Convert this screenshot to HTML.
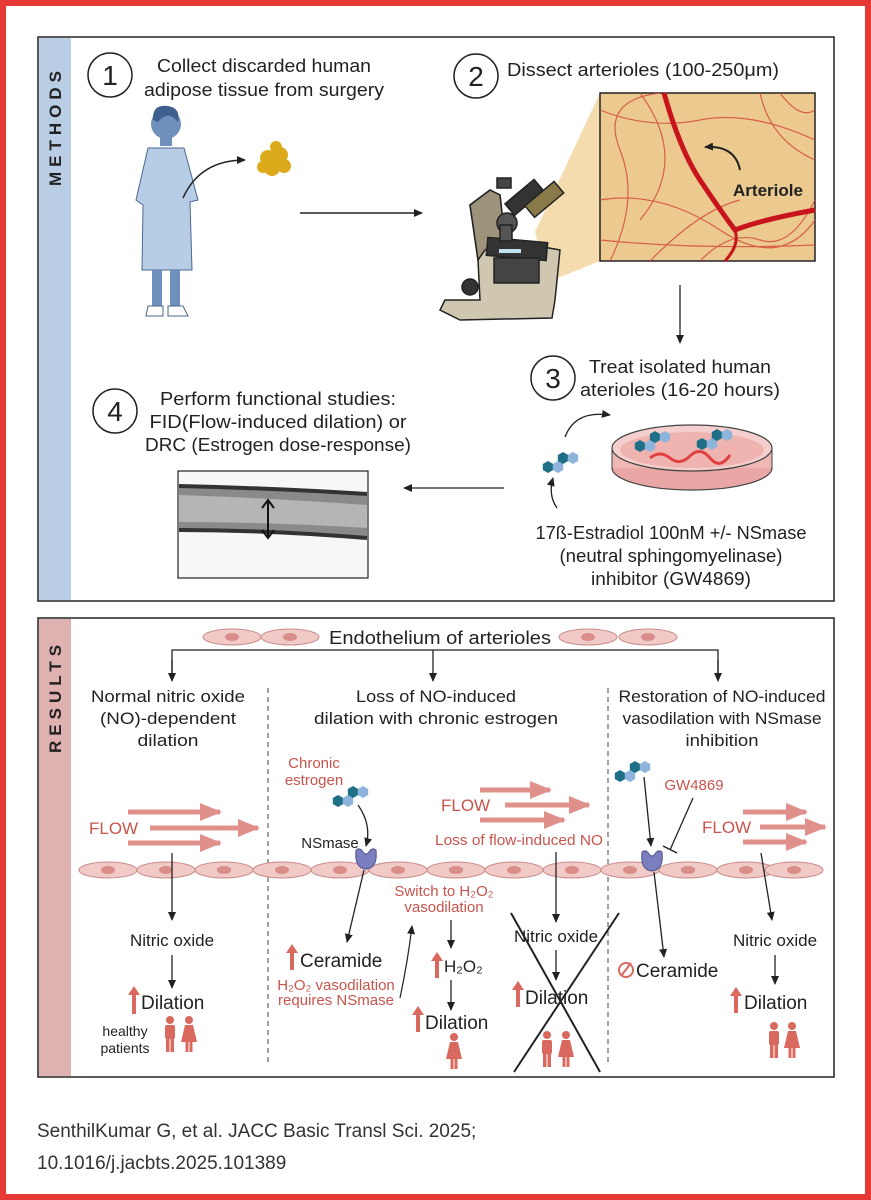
<!DOCTYPE html>
<html><head><meta charset="utf-8"><style>
html,body{margin:0;padding:0;background:#fff;}
svg{display:block;}
text{font-family:"Liberation Sans",sans-serif;}
</style></head><body>
<svg width="871" height="1200" viewBox="0 0 871 1200" xmlns="http://www.w3.org/2000/svg">
<defs>
<marker id="ah" markerWidth="10" markerHeight="10" refX="8" refY="5" orient="auto" markerUnits="userSpaceOnUse"><path d="M0,1 L9,5 L0,9 Z" fill="#222"/></marker>
<marker id="ahp" markerWidth="22" markerHeight="22" refX="20" refY="11" orient="auto" markerUnits="userSpaceOnUse"><path d="M0,2 L22,11 L0,20 Z" fill="#e0908a"/></marker>
<g id="hex"><polygon points="0,-6 5.2,-3 5.2,3 0,6 -5.2,3 -5.2,-3"/></g>
<g id="mol">
<use href="#hex" x="0" y="6" fill="#1f6f86"/><use href="#hex" x="10" y="6" fill="#8fb4dc"/>
<use href="#hex" x="15" y="-3" fill="#1f6f86"/><use href="#hex" x="25" y="-3" fill="#8fb4dc"/>
</g>
<g id="cell"><ellipse cx="0" cy="0" rx="29" ry="8" fill="#f1c9c6" stroke="#c88c8a" stroke-width="1"/><ellipse cx="0" cy="0" rx="7" ry="4" fill="#d98e8a"/></g>
<g id="man" fill="#d9695f"><circle cx="0" cy="-20" r="4"/><rect x="-5" y="-15" width="10" height="14" rx="2"/><rect x="-4" y="-2" width="3.5" height="14"/><rect x="0.5" y="-2" width="3.5" height="14"/></g>
<g id="woman" fill="#d9695f"><circle cx="0" cy="-20" r="4"/><path d="M-4,-15 L4,-15 L8,2 L-8,2 Z"/><rect x="-3.5" y="1" width="3" height="11"/><rect x="0.5" y="1" width="3" height="11"/></g>
<g id="enz"><path d="M-10,-8 Q-12,10 0,11 Q12,10 10,-8 Q6,-11 3,-6 Q0,-2 -3,-6 Q-6,-11 -10,-8Z" fill="#7b7fbf" stroke="#4f528f" stroke-width="1"/></g>
</defs>

<rect x="3" y="3" width="865" height="1194" fill="none" stroke="#e53935" stroke-width="6"/>

<rect x="38" y="37" width="796" height="564" fill="#fff" stroke="#222" stroke-width="1.5"/>
<rect x="39" y="38" width="32" height="562" fill="#b9cde5"/>
<text transform="translate(61,186) rotate(-90)" font-size="17" fill="#222" letter-spacing="5" font-weight="bold">METHODS</text>

<circle cx="110" cy="75" r="22" fill="none" stroke="#222" stroke-width="1.5"/>
<text x="110" y="85" font-size="28" text-anchor="middle" fill="#222">1</text>
<text x="264" y="72" font-size="18" text-anchor="middle" fill="#222" textLength="214" lengthAdjust="spacingAndGlyphs">Collect discarded human</text>
<text x="264" y="96" font-size="18" text-anchor="middle" fill="#222" textLength="240" lengthAdjust="spacingAndGlyphs">adipose tissue from surgery</text>

<circle cx="476" cy="76" r="22" fill="none" stroke="#222" stroke-width="1.5"/>
<text x="476" y="86" font-size="28" text-anchor="middle" fill="#222">2</text>
<text x="507" y="76" font-size="18" fill="#222" textLength="272" lengthAdjust="spacingAndGlyphs">Dissect arterioles (100-250μm)</text>

<g>
<circle cx="166" cy="124" r="15" fill="#6f8fbd"/>
<path d="M153,120 Q152,104 168,106 Q181,108 178,122 L174,118 Q166,112 158,122Z" fill="#3f5f8f"/>
<rect x="160" y="136" width="12" height="10" fill="#6f8fbd"/>
<path d="M148,148 L184,148 L198,200 L190,202 L192,270 L142,270 L143,205 L136,200 Z" fill="#b7cde6" stroke="#4c6690" stroke-width="1"/>
<rect x="152" y="270" width="10" height="38" fill="#6f8fbd"/>
<rect x="170" y="270" width="10" height="38" fill="#6f8fbd"/>
<path d="M148,306 L163,306 L163,316 L146,316Z M168,306 L183,306 L188,316 L168,316Z" fill="#fff" stroke="#4c6690"/>
</g>
<g fill="#dcaa1a"><circle cx="268" cy="158" r="8"/><circle cx="280" cy="155" r="8"/><circle cx="272" cy="168" r="8"/><circle cx="284" cy="166" r="7"/><circle cx="276" cy="147" r="6"/><circle cx="263" cy="167" r="6"/></g>
<path d="M183,198 Q200,160 245,160" fill="none" stroke="#222" stroke-width="1.5" marker-end="url(#ah)"/>

<line x1="300" y1="213" x2="422" y2="213" stroke="#222" stroke-width="1.5" marker-end="url(#ah)"/>

<polygon points="535,232 600,93 600,261 548,282" fill="#f4dcae"/>
<g stroke="#222" stroke-width="1.5">
<path d="M445,300 L480,300 L478,260 L470,205 L490,190 L500,195 L505,240 L560,250 L555,300 L552,318 L460,320 L440,310 Z" fill="#cfc7b0"/>
<path d="M470,205 L490,190 L500,195 L505,240 L485,250 L478,260 Z" fill="#9d937a"/>
<rect x="487" y="240" width="60" height="18" fill="#333" transform="rotate(5 517 249)"/>
<rect x="494" y="258" width="45" height="25" fill="#444"/>
<rect x="497" y="178" width="14" height="10" fill="#444"/>
<rect x="505" y="190" width="38" height="15" fill="#333" transform="rotate(-40 524 197)"/>
<rect x="525" y="192" width="38" height="15" fill="#8a7a4a" transform="rotate(-40 544 199)"/>
<circle cx="507" cy="223" r="10" fill="#555"/>
<rect x="500" y="225" width="12" height="16" fill="#555"/>
<circle cx="470" cy="287" r="8" fill="#333"/>
</g>
<rect x="499" y="249" width="22" height="4" fill="#bfe3f0"/>

<rect x="600" y="93" width="215" height="168" fill="#ecc98e" stroke="#222" stroke-width="1.5"/>
<g fill="none" stroke="#d1463a" stroke-width="1.2" opacity="0.8">
<path d="M600,110 Q650,130 700,120 T815,140"/><path d="M610,261 Q640,200 620,150 T660,93"/>
<path d="M600,200 Q660,190 720,230 T815,220"/><path d="M700,261 Q730,230 760,240 T815,200"/>
<path d="M640,93 Q690,160 640,220"/><path d="M760,93 Q770,140 815,160"/><path d="M600,240 Q700,250 815,245"/>
<path d="M650,261 Q700,210 740,200"/><path d="M780,93 Q800,120 815,110"/>
</g>
<path d="M664,93 Q680,150 700,180 Q720,210 735,230 Q760,220 815,210" fill="none" stroke="#c8141c" stroke-width="5"/>
<path d="M735,230 Q740,245 725,261" fill="none" stroke="#c8141c" stroke-width="3"/>
<path d="M740,170 Q735,145 705,147" fill="none" stroke="#222" stroke-width="2" marker-end="url(#ah)"/>
<text x="768" y="196" font-size="17" font-weight="bold" text-anchor="middle" fill="#222">Arteriole</text>

<line x1="680" y1="285" x2="680" y2="343" stroke="#222" stroke-width="1.3" marker-end="url(#ah)"/>

<circle cx="553" cy="378" r="22" fill="none" stroke="#222" stroke-width="1.5"/>
<text x="553" y="388" font-size="28" text-anchor="middle" fill="#222">3</text>
<text x="680" y="373" font-size="18" text-anchor="middle" fill="#222" textLength="182" lengthAdjust="spacingAndGlyphs">Treat isolated human</text>
<text x="680" y="396" font-size="18" text-anchor="middle" fill="#222" textLength="200" lengthAdjust="spacingAndGlyphs">aterioles (16-20 hours)</text>

<circle cx="115" cy="411" r="22" fill="none" stroke="#222" stroke-width="1.5"/>
<text x="115" y="421" font-size="28" text-anchor="middle" fill="#222">4</text>
<text x="278" y="405" font-size="18" text-anchor="middle" fill="#222" textLength="236" lengthAdjust="spacingAndGlyphs">Perform functional studies:</text>
<text x="278" y="428" font-size="18" text-anchor="middle" fill="#222" textLength="257" lengthAdjust="spacingAndGlyphs">FID(Flow-induced dilation) or</text>
<text x="278" y="451" font-size="18" text-anchor="middle" fill="#222" textLength="266" lengthAdjust="spacingAndGlyphs">DRC (Estrogen dose-response)</text>

<ellipse cx="692" cy="468" rx="80" ry="22" fill="#e8a7a4" stroke="#444" stroke-width="1.2"/>
<rect x="612" y="448" width="160" height="20" fill="#f0b8b5"/>
<line x1="612" y1="448" x2="612" y2="468" stroke="#444"/><line x1="772" y1="448" x2="772" y2="468" stroke="#444"/>
<ellipse cx="692" cy="448" rx="80" ry="23" fill="#f4cfcd" stroke="#444" stroke-width="1.2"/>
<ellipse cx="692" cy="450" rx="72" ry="18" fill="#f0b4b0"/>
<path d="M650,458 Q660,450 670,458 T690,456 T710,458 T730,455" fill="none" stroke="#e04040" stroke-width="3"/>
<use href="#mol" x="702" y="438"/>
<use href="#mol" x="640" y="440"/>
<use href="#mol" x="548" y="461"/>
<path d="M565,437 Q575,410 610,415" fill="none" stroke="#222" stroke-width="1.3" marker-end="url(#ah)"/>
<path d="M557,508 Q548,495 553,478" fill="none" stroke="#222" stroke-width="1.3" marker-end="url(#ah)"/>

<text x="671" y="539" font-size="18" text-anchor="middle" fill="#222" textLength="271" lengthAdjust="spacingAndGlyphs">17ß-Estradiol 100nM +/- NSmase</text>
<text x="671" y="562" font-size="18" text-anchor="middle" fill="#222" textLength="223" lengthAdjust="spacingAndGlyphs">(neutral sphingomyelinase)</text>
<text x="671" y="585" font-size="18" text-anchor="middle" fill="#222" textLength="160" lengthAdjust="spacingAndGlyphs">inhibitor (GW4869)</text>

<line x1="504" y1="488" x2="404" y2="488" stroke="#222" stroke-width="1.3" marker-end="url(#ah)"/>

<rect x="178" y="471" width="190" height="107" fill="#f7f7f7" stroke="#222" stroke-width="1.2"/>
<path d="M179,486 Q270,488 367,494 L367,538 Q270,530 179,532Z" fill="#8a8a8a"/>
<path d="M179,495 Q270,498 367,505 L367,528 Q270,522 179,522Z" fill="#b5b5b5"/>
<path d="M179,486 Q270,488 367,494" stroke="#333" stroke-width="4" fill="none"/>
<path d="M179,530 Q270,530 367,538" stroke="#333" stroke-width="4" fill="none"/>
<line x1="268" y1="502" x2="268" y2="536" stroke="#111" stroke-width="2"/>
<path d="M262,508 L268,500 L274,508 M262,530 L268,538 L274,530" stroke="#111" stroke-width="2" fill="none"/>

<rect x="38" y="618" width="796" height="459" fill="#fff" stroke="#222" stroke-width="1.5"/>
<rect x="39" y="619" width="32" height="457" fill="#dfb1b0"/>
<text transform="translate(61,753) rotate(-90)" font-size="17" fill="#222" letter-spacing="5" font-weight="bold">RESULTS</text>

<use href="#cell" x="232" y="637"/><use href="#cell" x="290" y="637"/>
<use href="#cell" x="588" y="637"/><use href="#cell" x="648" y="637"/>
<text x="440" y="644" font-size="18" text-anchor="middle" fill="#222" textLength="222" lengthAdjust="spacingAndGlyphs">Endothelium of arterioles</text>
<polyline points="172,680 172,650 718,650 718,680" fill="none" stroke="#222" stroke-width="1.3"/>
<line x1="172" y1="660" x2="172" y2="681" stroke="#222" stroke-width="1.3" marker-end="url(#ah)"/>
<line x1="718" y1="660" x2="718" y2="681" stroke="#222" stroke-width="1.3" marker-end="url(#ah)"/>
<line x1="433" y1="650" x2="433" y2="681" stroke="#222" stroke-width="1.3" marker-end="url(#ah)"/>

<text x="168" y="702" font-size="17" text-anchor="middle" fill="#222" textLength="154" lengthAdjust="spacingAndGlyphs">Normal nitric oxide</text>
<text x="168" y="724" font-size="17" text-anchor="middle" fill="#222" textLength="136" lengthAdjust="spacingAndGlyphs">(NO)-dependent</text>
<text x="168" y="746" font-size="17" text-anchor="middle" fill="#222" textLength="61" lengthAdjust="spacingAndGlyphs">dilation</text>
<text x="436" y="702" font-size="17" text-anchor="middle" fill="#222" textLength="160" lengthAdjust="spacingAndGlyphs">Loss of NO-induced</text>
<text x="436" y="724" font-size="17" text-anchor="middle" fill="#222" textLength="244" lengthAdjust="spacingAndGlyphs">dilation with chronic estrogen</text>
<text x="722" y="702" font-size="17" text-anchor="middle" fill="#222" textLength="207" lengthAdjust="spacingAndGlyphs">Restoration of NO-induced</text>
<text x="722" y="724" font-size="17" text-anchor="middle" fill="#222" textLength="199" lengthAdjust="spacingAndGlyphs">vasodilation with NSmase</text>
<text x="722" y="746" font-size="17" text-anchor="middle" fill="#222" textLength="73" lengthAdjust="spacingAndGlyphs">inhibition</text>

<line x1="268" y1="688" x2="268" y2="1062" stroke="#444" stroke-width="1" stroke-dasharray="5,4"/>
<line x1="608" y1="688" x2="608" y2="1062" stroke="#444" stroke-width="1" stroke-dasharray="5,4"/>

<g>
<use href="#cell" x="108" y="870"/><use href="#cell" x="166" y="870"/><use href="#cell" x="224" y="870"/>
<use href="#cell" x="282" y="870"/><use href="#cell" x="340" y="870"/><use href="#cell" x="398" y="870"/>
<use href="#cell" x="456" y="870"/><use href="#cell" x="514" y="870"/><use href="#cell" x="572" y="870"/>
<use href="#cell" x="630" y="870"/><use href="#cell" x="688" y="870"/><use href="#cell" x="746" y="870"/>
<use href="#cell" x="794" y="870"/>
</g>

<g stroke="#e0908a" stroke-width="5">
<line x1="128" y1="812" x2="220" y2="812" marker-end="url(#ahp)"/>
<line x1="150" y1="828" x2="258" y2="828" marker-end="url(#ahp)"/>
<line x1="128" y1="843" x2="220" y2="843" marker-end="url(#ahp)"/>
</g>
<text x="89" y="834" font-size="17" fill="#c9544c">FLOW</text>
<line x1="172" y1="853" x2="172" y2="920" stroke="#222" stroke-width="1.3" marker-end="url(#ah)"/>
<text x="172" y="946" font-size="17" text-anchor="middle" fill="#222">Nitric oxide</text>
<line x1="172" y1="955" x2="172" y2="988" stroke="#222" stroke-width="1.3" marker-end="url(#ah)"/>
<path d="M132,1014 L132,995 L128,995 L134,986 L140,995 L136,995 L136,1014Z" fill="#d9695f"/>
<text x="141" y="1009" font-size="19" fill="#222">Dilation</text>
<text x="125" y="1036" font-size="14" text-anchor="middle" fill="#222">healthy</text>
<text x="125" y="1053" font-size="14" text-anchor="middle" fill="#222">patients</text>
<use href="#man" x="170" y="1040"/><use href="#woman" x="189" y="1040"/>

<text x="314" y="768" font-size="15" text-anchor="middle" fill="#c9544c">Chronic</text>
<text x="314" y="785" font-size="15" text-anchor="middle" fill="#c9544c">estrogen</text>
<use href="#mol" x="338" y="795"/>
<text x="330" y="848" font-size="15" text-anchor="middle" fill="#222">NSmase</text>
<path d="M358,805 Q372,825 366,846" fill="none" stroke="#222" stroke-width="1.3" marker-end="url(#ah)"/>
<use href="#enz" x="366" y="858"/>
<line x1="364" y1="870" x2="347" y2="942" stroke="#222" stroke-width="1.3" marker-end="url(#ah)"/>
<path d="M290,970 L290,953 L286,953 L292,944 L298,953 L294,953 L294,970Z" fill="#d9695f"/>
<text x="300" y="967" font-size="19" fill="#222">Ceramide</text>
<text x="336" y="990" font-size="15" text-anchor="middle" fill="#c9544c">H₂O₂ vasodilation</text>
<text x="336" y="1005" font-size="15" text-anchor="middle" fill="#c9544c">requires NSmase</text>
<path d="M400,998 Q408,960 412,926" fill="none" stroke="#222" stroke-width="1.2" marker-end="url(#ah)"/>

<g stroke="#e0908a" stroke-width="5">
<line x1="480" y1="790" x2="550" y2="790" marker-end="url(#ahp)"/>
<line x1="505" y1="805" x2="589" y2="805" marker-end="url(#ahp)"/>
<line x1="480" y1="820" x2="564" y2="820" marker-end="url(#ahp)"/>
</g>
<text x="441" y="811" font-size="17" fill="#c9544c">FLOW</text>
<text x="519" y="845" font-size="15" text-anchor="middle" fill="#c9544c" textLength="168" lengthAdjust="spacingAndGlyphs">Loss of flow-induced NO</text>
<text x="444" y="896" font-size="15" text-anchor="middle" fill="#c9544c">Switch to H₂O₂</text>
<text x="444" y="912" font-size="15" text-anchor="middle" fill="#c9544c">vasodilation</text>
<line x1="451" y1="920" x2="451" y2="948" stroke="#222" stroke-width="1.3" marker-end="url(#ah)"/>
<path d="M435,978 L435,961 L431,961 L437,952 L443,961 L439,961 L439,978Z" fill="#d9695f"/>
<text x="444" y="972" font-size="17" fill="#222">H₂O₂</text>
<line x1="451" y1="980" x2="451" y2="1010" stroke="#222" stroke-width="1.3" marker-end="url(#ah)"/>
<path d="M416,1032 L416,1015 L412,1015 L418,1006 L424,1015 L420,1015 L420,1032Z" fill="#d9695f"/>
<text x="425" y="1029" font-size="19" fill="#222">Dilation</text>
<use href="#woman" x="454" y="1057"/>

<line x1="556" y1="852" x2="556" y2="922" stroke="#222" stroke-width="1.3" marker-end="url(#ah)"/>
<text x="556" y="942" font-size="17" text-anchor="middle" fill="#222">Nitric oxide</text>
<line x1="556" y1="950" x2="556" y2="980" stroke="#222" stroke-width="1.3" marker-end="url(#ah)"/>
<path d="M516,1007 L516,990 L512,990 L518,981 L524,990 L520,990 L520,1007Z" fill="#d9695f"/>
<text x="525" y="1004" font-size="19" fill="#222">Dilation</text>
<use href="#man" x="547" y="1055"/><use href="#woman" x="566" y="1055"/>
<line x1="511" y1="913" x2="600" y2="1072" stroke="#222" stroke-width="2"/>
<line x1="619" y1="913" x2="514" y2="1072" stroke="#222" stroke-width="2"/>

<use href="#mol" x="620" y="770"/>
<text x="694" y="790" font-size="15" text-anchor="middle" fill="#c9544c">GW4869</text>
<path d="M644,777 Q648,815 651,846" fill="none" stroke="#222" stroke-width="1.3" marker-end="url(#ah)"/>
<line x1="693" y1="798" x2="670" y2="850" stroke="#222" stroke-width="1.3"/>
<line x1="663" y1="846" x2="677" y2="853" stroke="#222" stroke-width="1.5"/>
<use href="#enz" x="652" y="860"/>
<line x1="654" y1="872" x2="664" y2="957" stroke="#222" stroke-width="1.3" marker-end="url(#ah)"/>
<circle cx="626" cy="970" r="7" fill="none" stroke="#d9695f" stroke-width="2"/>
<line x1="621" y1="976" x2="631" y2="963" stroke="#d9695f" stroke-width="2"/>
<text x="636" y="977" font-size="19" fill="#222">Ceramide</text>
<g stroke="#e0908a" stroke-width="5">
<line x1="743" y1="812" x2="806" y2="812" marker-end="url(#ahp)"/>
<line x1="760" y1="827" x2="825" y2="827" marker-end="url(#ahp)"/>
<line x1="743" y1="842" x2="806" y2="842" marker-end="url(#ahp)"/>
</g>
<text x="702" y="833" font-size="17" fill="#c9544c">FLOW</text>
<line x1="761" y1="853" x2="772" y2="920" stroke="#222" stroke-width="1.3" marker-end="url(#ah)"/>
<text x="775" y="946" font-size="17" text-anchor="middle" fill="#222">Nitric oxide</text>
<line x1="775" y1="955" x2="775" y2="984" stroke="#222" stroke-width="1.3" marker-end="url(#ah)"/>
<path d="M734,1013 L734,996 L730,996 L736,987 L742,996 L738,996 L738,1013Z" fill="#d9695f"/>
<text x="744" y="1009" font-size="19" fill="#222">Dilation</text>
<use href="#man" x="774" y="1046"/><use href="#woman" x="792" y="1046"/>

<text x="37" y="1137" font-size="19" fill="#333">SenthilKumar G, et al. JACC Basic Transl Sci. 2025;</text>
<text x="37" y="1169" font-size="19" fill="#333">10.1016/j.jacbts.2025.101389</text>
</svg>
</body></html>
